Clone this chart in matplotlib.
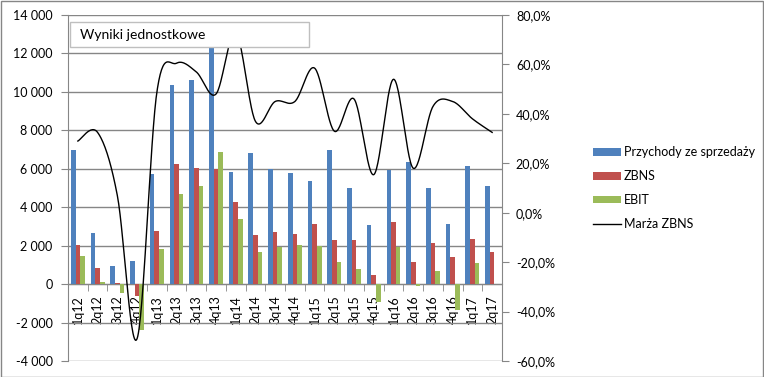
import matplotlib
matplotlib.use("Agg")
import matplotlib.pyplot as plt
import numpy as np
from matplotlib.patches import Rectangle, Patch
from matplotlib.lines import Line2D
from matplotlib.ticker import FuncFormatter, FixedLocator

plt.rcParams['font.family'] = ['Lato', 'DejaVu Sans']

categories = ["1q12", "2q12", "3q12", "4q12", "1q13", "2q13", "3q13", "4q13",
              "1q14", "2q14", "3q14", "4q14", "1q15", "2q15", "3q15", "4q15",
              "1q16", "2q16", "3q16", "4q16", "1q17", "2q17"]
przychody = [6960, 2650, 950, 1200, 5730, 10340, 10600, 12500,
             5820, 6800, 6010, 5770, 5350, 6960, 4990, 3060,
             5920, 6340, 4990, 3120, 6130, 5090]
zbns = [2030, 850, 50, -620, 2770, 6250, 6030, 6010,
        4260, 2550, 2700, 2600, 3120, 2290, 2290, 470,
        3220, 1140, 2130, 1400, 2340, 1660]
ebit = [1450, 100, -480, -2400, 1840, 4690, 5090, 6860,
        3380, 1660, 1920, 2010, 2000, 1140, 780, -920,
        1920, -80, 680, -1350, 1090, 0]
marza = [29.0, 32.5, 7.0, -51.0, 48.5, 60.5, 57.0, 48.0,
         73.0, 37.0, 45.0, 45.0, 58.5, 33.0, 46.0, 15.4,
         54.0, 18.0, 43.0, 45.0, 38.0, 32.5]

title = "Wyniki jednostkowe"
series_names = ["Przychody ze sprzedaży", "ZBNS", "EBIT", "Marża ZBNS"]
colors = ["#4F81BD", "#C0504D", "#9BBB59"]
grid_c = "#868686"

W, H = 764, 377
fig = plt.figure(figsize=(W / 100, H / 100), dpi=100)
L, R, T, B = 68, 502, 15, 361
ax = fig.add_axes([L / W, 1 - B / H, (R - L) / W, (B - T) / H])

x = np.arange(len(categories))
bw = 0.235
ax.bar(x - bw, przychody, bw, color=colors[0], zorder=3)
ax.bar(x, zbns, bw, color=colors[1], zorder=3)
ax.bar(x + bw, ebit, bw, color=colors[2], zorder=3)

ax.set_xlim(-0.5, len(categories) - 0.5)
ax.set_ylim(-4000, 14000)
ax.set_yticks(np.arange(-4000, 14001, 2000))
ax.yaxis.set_major_formatter(FuncFormatter(lambda v, p: f"{int(v):,}".replace(",", " ")))
ax.grid(axis='y', color=grid_c, linewidth=1, zorder=1)
ax.set_axisbelow(True)
for s in ['top', 'right']:
    ax.spines[s].set_visible(False)
ax.spines['left'].set_color(grid_c)
ax.spines['bottom'].set_position(('data', 0))
ax.spines['bottom'].set_color(grid_c)
ax.spines['bottom'].set_zorder(2)
ax.tick_params(axis='y', length=5, color=grid_c, labelsize=9, pad=6)
ax.set_xticks(x)
ax.set_xticklabels(categories, rotation=90, va='top', ha='center', fontsize=9)
ax.xaxis.set_minor_locator(FixedLocator(np.arange(-0.5, len(categories), 1.0)))
ax.tick_params(axis='x', which='major', length=0, pad=8)
ax.tick_params(axis='x', which='minor', length=5, color=grid_c, direction='out')

ax2 = ax.twinx()
ax2.set_ylim(-60, 80)
ax2.set_yticks(np.arange(-60, 81, 20))
ax2.yaxis.set_major_formatter(FuncFormatter(lambda v, p: f"{v:.1f}%".replace(".", ",")))
for s in ['top', 'left', 'bottom']:
    ax2.spines[s].set_visible(False)
ax2.spines['right'].set_color(grid_c)
ax2.tick_params(axis='y', length=5, color=grid_c, labelsize=9, pad=5)

# Smooth line (Catmull-Rom style Bezier, like Excel's smoothed line)
P = np.column_stack([x, marza]).astype(float)
n = len(P)
pts = []
for i in range(n - 1):
    p0 = P[max(i - 1, 0)]
    p1 = P[i]
    p2 = P[i + 1]
    p3 = P[min(i + 2, n - 1)]
    c1 = p1 + (p2 - p0) / 6.0
    c2 = p2 - (p3 - p1) / 6.0
    t = np.linspace(0, 1, 30)[:, None]
    seg = ((1 - t) ** 3) * p1 + 3 * ((1 - t) ** 2) * t * c1 + 3 * (1 - t) * t ** 2 * c2 + t ** 3 * p2
    pts.append(seg if i == 0 else seg[1:])
pts = np.vstack(pts)
ax2.plot(pts[:, 0], pts[:, 1], color='black', linewidth=1.0, zorder=5)

# Title box
box = Rectangle((70 / W, 1 - 47 / H), (309 - 70) / W, 25 / H, transform=fig.transFigure,
                facecolor='white', edgecolor='#BFBFBF', linewidth=1, zorder=20)
fig.add_artist(box)
fig.text(80 / W, 1 - 35 / H, title, fontsize=10, va='center', ha='left', zorder=21)

# Legend
handles = [Patch(facecolor=colors[0]), Patch(facecolor=colors[1]), Patch(facecolor=colors[2]),
           Line2D([], [], color='black', linewidth=1.0)]
fig.legend(handles, series_names, loc='center left', bbox_to_anchor=(593 / W, 1 - 188 / H),
           frameon=False, fontsize=9, handlelength=2.2, handleheight=0.6, handletextpad=0.25,
           labelspacing=0.95, borderpad=0, borderaxespad=0)

# Outer border
fig.add_artist(Rectangle((0.5 / W, 0.5 / H), (W - 1.5) / W, (H - 1.5) / H, transform=fig.transFigure,
                         facecolor='none', edgecolor=grid_c, linewidth=1, zorder=30))

fig.savefig("out.png", dpi=100)
